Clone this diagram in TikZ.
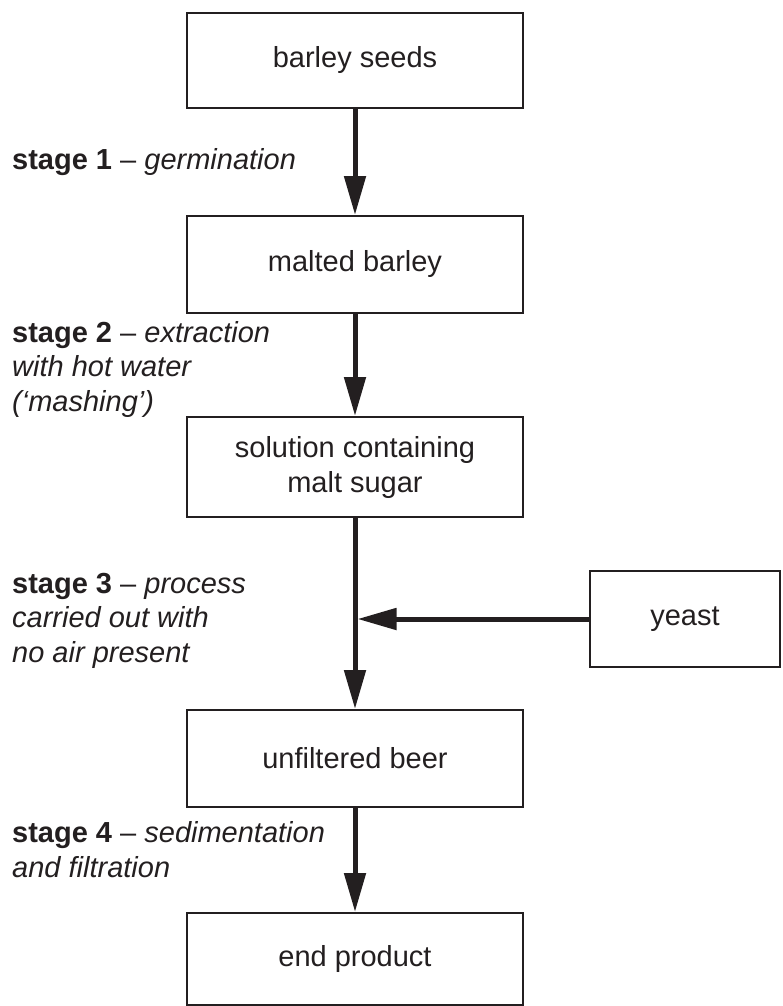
\documentclass[tikz,border=0pt]{standalone}
\usepackage{fontspec}
\setmainfont{Liberation Sans}
\usetikzlibrary{arrows.meta}
\definecolor{ink}{RGB}{35,31,32}
\begin{document}
\begin{tikzpicture}[x=1pt,y=-1pt,
  box/.style={draw=ink, line width=2pt, minimum width=336pt, inner sep=0pt, align=center, text=ink, font=\fontsize{29}{35}\selectfont},
  flow/.style={draw=ink, line width=5pt, -{Triangle[length=39pt,width=21pt]}},
  lab/.style={anchor=base west, inner sep=0pt, align=left, text=ink, font=\fontsize{29}{34.5}\selectfont}]
\useasboundingbox (0,0) rectangle (782,1006);
\node[box, minimum height=95pt] (b1) at (355,60.5) {barley seeds};
\node[box, minimum height=97pt] (b2) at (355,264.5) {malted barley};
\node[box, minimum height=100pt] (b3) at (355,467) {solution containing\\malt sugar};
\node[box, minimum height=97pt] (b4) at (355,758.5) {unfiltered beer};
\node[box, minimum height=92pt] (b5) at (355,959) {end product};
\node[box, minimum width=190pt, minimum height=96pt] (yeast) at (685,619) {yeast};
\coordinate (j) at (357.5,619);
\draw[flow] (b1) -- (b2);
\draw[flow] (b2) -- (b3);
\draw[flow] (b3) -- (b4);
\draw[flow] (yeast.west) -- (j);
\draw[flow] (b4) -- (b5);
\node[lab] (s1) at (12,169) {\textbf{stage 1} – \textit{germination}};
\node[lab] (s2) at (12,411) {\textbf{stage 2} – \textit{extraction}\\\textit{with hot water}\\\textit{(‘mashing’)}};
\node[lab] (s3) at (12,662) {\textbf{stage 3} – \textit{process}\\\textit{carried out with}\\\textit{no air present}};
\node[lab] (s4) at (12,877) {\textbf{stage 4} – \textit{sedimentation}\\\textit{and filtration}};
\end{tikzpicture}
\end{document}
